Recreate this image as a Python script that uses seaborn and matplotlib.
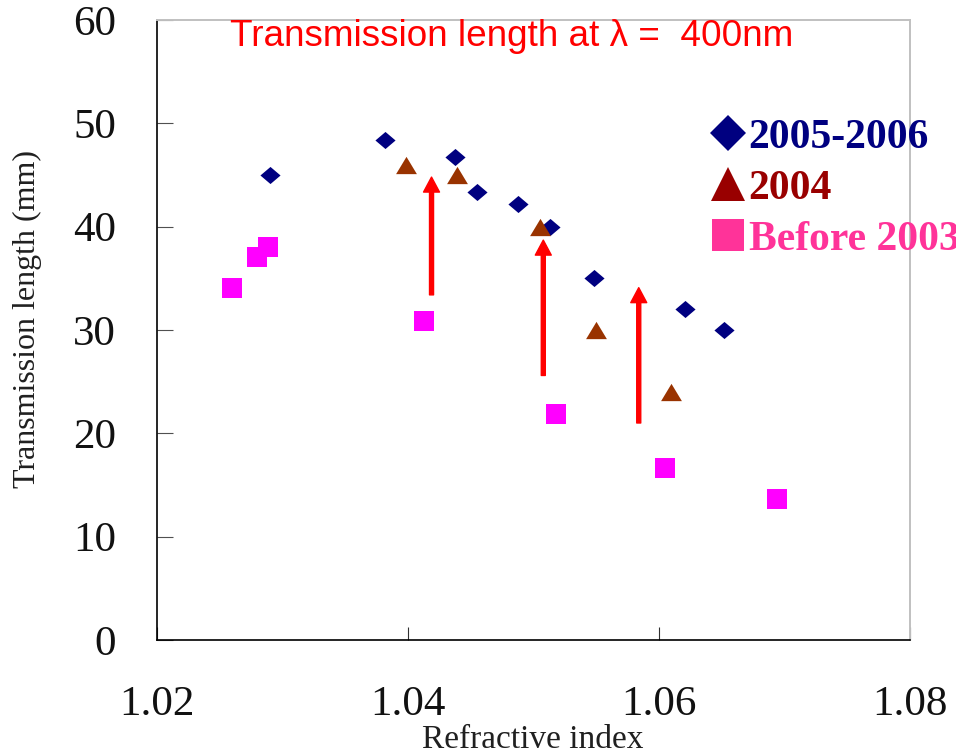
import numpy as np
import matplotlib
matplotlib.use("Agg")
import matplotlib.pyplot as plt
import seaborn as sns
from matplotlib.markers import MarkerStyle
from matplotlib.lines import Line2D
from matplotlib.font_manager import FontProperties

# ---------------- data ----------------
x_2005 = [1.0290, 1.0382, 1.0438, 1.0455, 1.0488, 1.0513, 1.0548, 1.0621, 1.0652]
y_2005 = [45.0, 48.4, 46.7, 43.4, 42.2, 40.0, 35.0, 32.0, 30.0]

x_2004 = [1.0399, 1.0439, 1.0505, 1.0550, 1.0610]
y_2004 = [46.0, 45.0, 40.0, 30.0, 24.0]

x_pre = [1.0260, 1.0280, 1.0289, 1.0413, 1.0518, 1.0605, 1.0694]
y_pre = [34.1, 37.1, 38.0, 30.9, 21.9, 16.6, 13.6]

arrow_x = [1.0419, 1.0508, 1.0584]
arrow_y0 = [33.4, 25.6, 21.0]
arrow_y1 = [44.8, 38.7, 34.1]

labels = ["2005-2006", "2004", "Before 2003"]
title_text = "Transmission length at \u03bb =  400nm"
xlabel_text = "Refractive index"
ylabel_text = "Transmission length (mm)"
xticks = [1.02, 1.04, 1.06, 1.08]
yticks = [0, 10, 20, 30, 40, 50, 60]

# ---------------- style ----------------
sns.set_style("white")
plt.rcParams['font.family'] = ['Liberation Serif', 'DejaVu Serif']

W, H = 956, 756
fig = plt.figure(figsize=(W / 100, H / 100), dpi=100)
ax = fig.add_axes([156.5 / W, 1 - 640 / H, (910 - 156.5) / W, 620 / H])

diamond = MarkerStyle(np.array([[-1, 0], [0, 0.85], [1, 0], [0, -0.85], [-1, 0]]))
triangle = MarkerStyle(np.array([[-1, -0.83], [1, -0.83], [0, 0.83], [-1, -0.83]]))

sns.scatterplot(x=x_2005, y=y_2005, ax=ax, marker=diamond, s=210,
                color="#000080", linewidth=0, zorder=3)
sns.scatterplot(x=x_pre, y=y_pre, ax=ax, marker="s", s=225,
                color="#FF00FF", linewidth=0, zorder=3)
sns.scatterplot(x=x_2004, y=y_2004, ax=ax, marker=triangle, s=225,
                color="#993300", linewidth=0, zorder=4)

for xa, ya0, ya1 in zip(arrow_x, arrow_y0, arrow_y1):
    ax.annotate("", xy=(xa, ya1), xytext=(xa, ya0),
                arrowprops=dict(color="red", width=2.9, headwidth=11.5,
                                headlength=10.8, shrink=0), zorder=5)

ax.set_xlim(1.02, 1.08)
ax.set_ylim(0, 60)
ax.set_xticks(xticks)
ax.set_xticklabels([f"{t:.2f}" for t in xticks])
ax.set_yticks(yticks)
ax.set_yticklabels([str(t) for t in yticks])

ax.tick_params(axis='y', which='major', left=True, direction='in', length=11.5,
               width=0.8, color='#505050', pad=29, labelsize=31, labelcolor='#111111')
ax.tick_params(axis='x', which='major', bottom=True, direction='in', length=9.4,
               width=0.8, color='#303030', pad=33, labelsize=31, labelcolor='#111111')

for s in ['left', 'bottom']:
    ax.spines[s].set_color('black')
    ax.spines[s].set_linewidth(1.2)
for s in ['top', 'right']:
    ax.spines[s].set_color('#c0c0c0')
    ax.spines[s].set_linewidth(1.4)

ax.set_xlabel(xlabel_text, fontsize=24, color='#202020')
ax.xaxis.set_label_coords(0.5, -(724 - 640) / 620)
ax.set_ylabel(ylabel_text, fontsize=23, color='#202020')
ax.yaxis.set_label_coords(-(156.5 - 42) / 753.5, (640 - 319) / 620)

fig.text(230 / W, 1 - 19 / H, title_text, color='red', fontsize=26.6,
         family=['Liberation Sans', 'DejaVu Sans'], ha='left', va='top')

handles = [
    Line2D([], [], ls='', marker='D', ms=18.3, color='#000080', mew=0),
    Line2D([], [], ls='', marker='^', ms=25, color='#990000', mew=0),
    Line2D([], [], ls='', marker='s', ms=23, color='#FF3399', mew=0),
]
leg = ax.legend(handles=handles, labels=labels,
                prop=FontProperties(family='Liberation Serif', weight='bold', size=30),
                labelcolor=['#000080', '#990000', '#FF3399'],
                frameon=False, loc='upper left',
                bbox_to_anchor=(710 / W, 1 - 118.5 / H), bbox_transform=fig.transFigure,
                borderpad=0, borderaxespad=0, handlelength=0.86, handletextpad=0.07,
                labelspacing=0.31)

fig.savefig("out.png", dpi=100)
